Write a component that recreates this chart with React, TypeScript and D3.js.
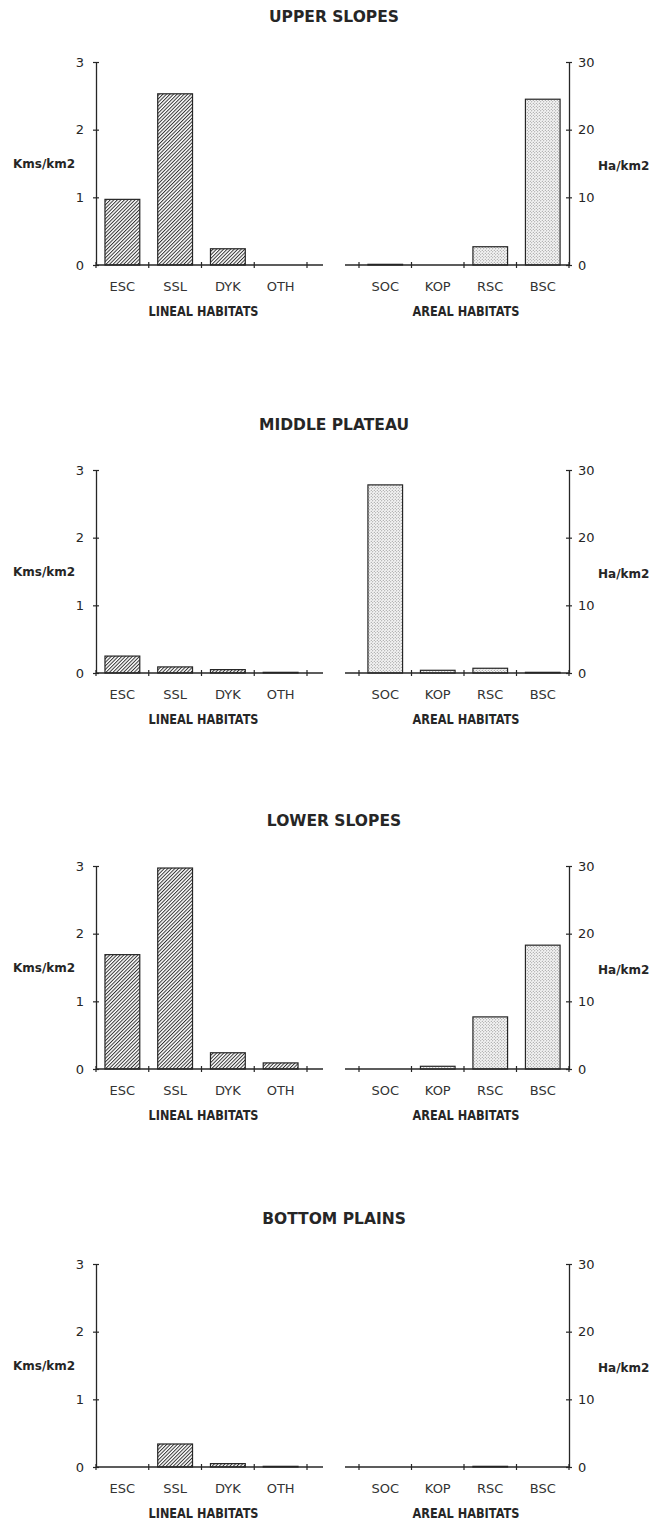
import React, { useEffect, useRef } from 'react'
import * as d3 from 'd3'

// habitat densities per physiographic zone
const zones = ['UPPER SLOPES', 'MIDDLE PLATEAU', 'LOWER SLOPES', 'BOTTOM PLAINS']
const linealHabitats = ['ESC', 'SSL', 'DYK', 'OTH']
const arealHabitats = ['SOC', 'KOP', 'RSC', 'BSC']

// Kms/km2
const linealKms = [
  [0.97, 2.53, 0.24, 0],
  [0.25, 0.09, 0.05, 0.01],
  [1.69, 2.97, 0.24, 0.09],
  [0, 0.34, 0.05, 0.01],
]

// Ha/km2
const arealHa = [
  [0.1, 0, 2.7, 24.5],
  [27.8, 0.4, 0.7, 0.1],
  [0, 0.4, 7.7, 18.3],
  [0, 0, 0.1, 0],
]

const linealTicks = [0, 1, 2, 3]
const arealTicks = [0, 10, 20, 30]

const width = 669
const height = 1520
const panelTops = [62, 470, 866, 1264]
const plotHeight = 203
const leftRange = [96, 307]
const rightRange = [359, 569]

const tickFont = 'DejaVu Sans, sans-serif'
const ink = '#262626'

const App = () => {
  const ref = useRef<SVGSVGElement>(null)

  useEffect(() => {
    const svg = d3.select(ref.current)
    svg.selectAll('*').remove()

    const defs = svg.append('defs')
    const hatch = defs
      .append('pattern')
      .attr('id', 'hatch')
      .attr('patternUnits', 'userSpaceOnUse')
      .attr('width', 2.5)
      .attr('height', 2.5)
      .attr('patternTransform', 'rotate(45)')
    hatch.append('rect').attr('width', 2.5).attr('height', 2.5).attr('fill', '#fff')
    hatch
      .append('line')
      .attr('x1', 0.5)
      .attr('x2', 0.5)
      .attr('y1', 0)
      .attr('y2', 2.5)
      .attr('stroke', '#2a2a2a')
      .attr('stroke-width', 0.95)

    const dots = defs
      .append('pattern')
      .attr('id', 'dots')
      .attr('patternUnits', 'userSpaceOnUse')
      .attr('width', 3)
      .attr('height', 3)
    dots.append('rect').attr('width', 3).attr('height', 3).attr('fill', '#f4f4f4')
    dots.append('circle').attr('cx', 0.75).attr('cy', 0.75).attr('r', 0.5).attr('fill', '#777')
    dots.append('circle').attr('cx', 2.25).attr('cy', 2.25).attr('r', 0.5).attr('fill', '#777')

    const yLeft = d3.scaleLinear().domain([0, 3]).range([plotHeight, 0])
    const yRight = d3.scaleLinear().domain([0, 30]).range([plotHeight, 0])

    const xLeftEdges = d3.scaleBand().domain(linealHabitats).range(leftRange)
    const xLeft = d3.scaleBand().domain(linealHabitats).range(leftRange).paddingInner(0.34).paddingOuter(0.17)
    const xRightEdges = d3.scaleBand().domain(arealHabitats).range(rightRange)
    const xRight = d3.scaleBand().domain(arealHabitats).range(rightRange).paddingInner(0.34).paddingOuter(0.17)

    zones.forEach((zone, i) => {
      const g = svg.append('g').attr('transform', `translate(0, ${panelTops[i]})`)

      g.append('text')
        .attr('x', 334)
        .attr('y', -40)
        .attr('text-anchor', 'middle')
        .attr('font-family', tickFont)
        .attr('font-weight', 'bold')
        .attr('font-size', 15.5)
        .attr('fill', ink)
        .text(zone)

      // bars
      g.selectAll('rect.lineal')
        .data(linealKms[i].map((v, j) => ({ v, c: linealHabitats[j] })).filter((d) => d.v > 0))
        .join('rect')
        .attr('x', (d) => xLeft(d.c))
        .attr('y', (d) => yLeft(d.v))
        .attr('width', xLeft.bandwidth())
        .attr('height', (d) => plotHeight - yLeft(d.v))
        .attr('fill', 'url(#hatch)')
        .attr('stroke', ink)
        .attr('stroke-width', 1.2)

      g.selectAll('rect.areal')
        .data(arealHa[i].map((v, j) => ({ v, c: arealHabitats[j] })).filter((d) => d.v > 0))
        .join('rect')
        .attr('x', (d) => xRight(d.c))
        .attr('y', (d) => yRight(d.v))
        .attr('width', xRight.bandwidth())
        .attr('height', (d) => plotHeight - yRight(d.v))
        .attr('fill', 'url(#dots)')
        .attr('stroke', ink)
        .attr('stroke-width', 1.2)

      // left y axis
      g.append('g')
        .attr('transform', `translate(${leftRange[0]}, 0)`)
        .call(
          d3.axisLeft(yLeft).tickValues(linealTicks).tickSize(3).tickSizeOuter(0).tickPadding(9).tickFormat(d3.format('d'))
        )
        .call((a) => a.select('.domain').attr('stroke', ink).attr('stroke-width', 1.3))
        .call((a) => a.selectAll('.tick line').attr('x1', 3).attr('stroke', ink).attr('stroke-width', 1.2))
        .call((a) => a.selectAll('text').attr('font-family', tickFont).attr('font-size', 13).attr('fill', ink))

      // right y axis
      g.append('g')
        .attr('transform', `translate(${rightRange[1]}, 0)`)
        .call(
          d3.axisRight(yRight).tickValues(arealTicks).tickSize(3).tickSizeOuter(0).tickPadding(6).tickFormat(d3.format('d'))
        )
        .call((a) => a.select('.domain').attr('stroke', ink).attr('stroke-width', 1.3))
        .call((a) => a.selectAll('.tick line').attr('x1', -3).attr('stroke', ink).attr('stroke-width', 1.2))
        .call((a) => a.selectAll('text').attr('font-family', tickFont).attr('font-size', 13).attr('fill', ink))

      // category axes
      const baseLines = [
        { x1: leftRange[0], x2: leftRange[1] + 16 },
        { x1: rightRange[0] - 14, x2: rightRange[1] },
      ]
      g.selectAll('line.base')
        .data(baseLines)
        .join('line')
        .attr('x1', (d) => d.x1)
        .attr('x2', (d) => d.x2)
        .attr('y1', plotHeight)
        .attr('y2', plotHeight)
        .attr('stroke', ink)
        .attr('stroke-width', 1.3)

      const edges = [
        ...linealHabitats.map((c) => xLeftEdges(c)),
        leftRange[1],
        ...arealHabitats.map((c) => xRightEdges(c)),
        rightRange[1],
      ]
      g.selectAll('line.edge')
        .data(edges)
        .join('line')
        .attr('x1', (d) => d)
        .attr('x2', (d) => d)
        .attr('y1', plotHeight - 3)
        .attr('y2', plotHeight + 3)
        .attr('stroke', ink)
        .attr('stroke-width', 1.2)

      const catAxes: [d3.ScaleBand<string>, string, number][] = [
        [xLeftEdges, 'LINEAL HABITATS', 110],
        [xRightEdges, 'AREAL HABITATS', 107],
      ]
      catAxes.forEach(([scale, label, len]) => {
        g.append('g')
          .attr('transform', `translate(0, ${plotHeight})`)
          .call(d3.axisBottom(scale).tickSize(0).tickPadding(17))
          .call((a) => a.select('.domain').remove())
          .call((a) => a.selectAll('text').attr('font-family', tickFont).attr('font-size', 13).attr('fill', '#333'))

        const r = scale.range()
        g.append('text')
          .attr('x', (r[0] + r[1]) / 2 + 2)
          .attr('y', plotHeight + 51)
          .attr('text-anchor', 'middle')
          .attr('font-family', tickFont)
          .attr('font-weight', 'bold')
          .attr('font-size', 14)
          .attr('textLength', len)
          .attr('lengthAdjust', 'spacingAndGlyphs')
          .attr('fill', ink)
          .text(label)
      })

      // unit labels
      g.append('text')
        .attr('x', 13)
        .attr('y', plotHeight / 2 + 4)
        .attr('font-family', tickFont)
        .attr('font-weight', 'bold')
        .attr('font-size', 12)
        .attr('fill', ink)
        .text('Kms/km2')

      g.append('text')
        .attr('x', 598)
        .attr('y', plotHeight / 2 + 6)
        .attr('font-family', tickFont)
        .attr('font-weight', 'bold')
        .attr('font-size', 12)
        .attr('fill', ink)
        .text('Ha/km2')
    })
  }, [])

  return (
    <svg
      ref={ref}
      width={width}
      height={height}
      style={{ position: 'absolute', left: 0, top: 0, background: '#fff' }}
    />
  )
}

export default App
